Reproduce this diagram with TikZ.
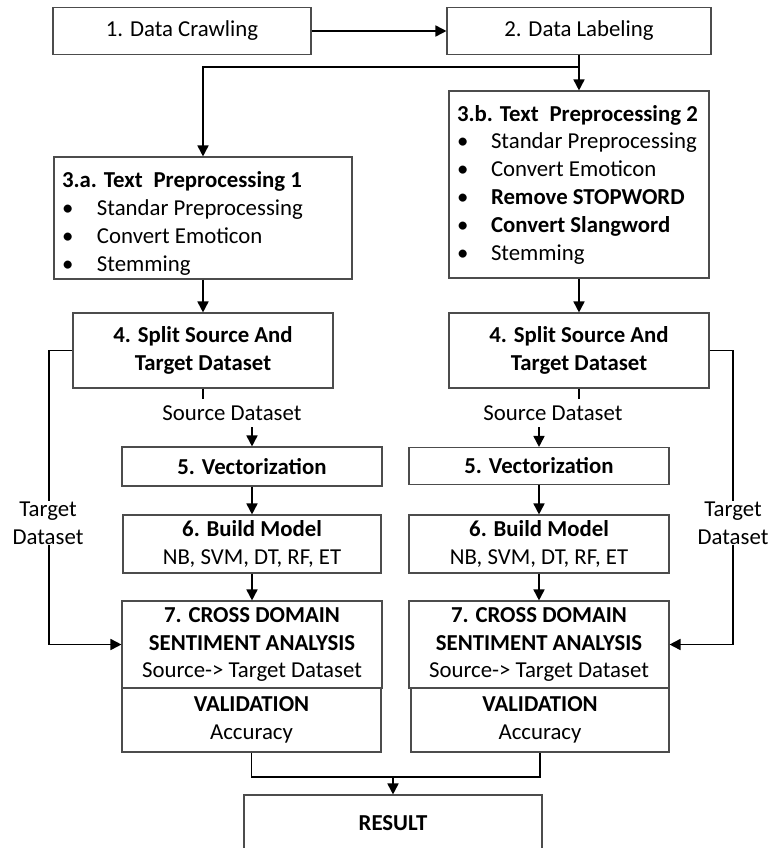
\documentclass[tikz,border=0pt]{standalone}
\usepackage{fontspec}
\setmainfont{Carlito}
\usetikzlibrary{arrows.meta}
\tikzset{
  box/.style={draw=black!70, line width=1.1pt, rectangle, inner sep=0pt, align=center, fill=white},
  listbox/.style={box, inner xsep=8pt, align=flush left},
  conn/.style={draw=black, line width=1.7pt},
  arr/.style={conn, -{Triangle[length=11pt,width=11pt]}},
  lbl/.style={inner sep=0pt, align=center},
  tlbl/.style={inner xsep=1pt, inner ysep=1pt, align=center, fill=white}
}
\newcommand{\bul}[2]{\mbox{\makebox[#1][l]{•}#2}}
\begin{document}
\begin{tikzpicture}[x=1pt,y=-1pt,font=\fontsize{22.8}{27.8}\selectfont]
\clip (0,0) rectangle (769,848);
\fill[white] (0,0) rectangle (769,848);
% top row
\node[box, minimum width=258, minimum height=47] (n1) at (182,31) {1. Data Crawling};
\node[box, minimum width=264, minimum height=47] (n2) at (579,31) {2. Data Labeling};
% preprocessing
\node[listbox, minimum width=260, minimum height=187, text width=244] (n3b) at (579,184.5)
 {\mbox{\textbf{3.b. Text\hspace{0.25em} Preprocessing 2}}\\
  \bul{34pt}{Standar Preprocessing}\\
  \bul{34pt}{Convert Emoticon}\\
  \bul{34pt}{\textbf{Remove STOPWORD}}\\
  \bul{34pt}{\textbf{Convert Slangword}}\\
  \bul{34pt}{Stemming}};
\node[listbox, minimum width=298, minimum height=122, text width=282] (n3a) at (203,218)
 {\mbox{\rule{0pt}{27pt}\textbf{3.a. Text\hspace{0.25em} Preprocessing 1}}\\
  \bul{35pt}{Standar Preprocessing}\\
  \bul{35pt}{Convert Emoticon}\\
  \bul{35pt}{Stemming}};
% split
\node[box, minimum width=260, minimum height=75] (n4a) at (203,350.5) {\textbf{4. Split Source And}\\\textbf{Target Dataset}};
\node[box, minimum width=260, minimum height=75] (n4b) at (579,350.5) {\textbf{4. Split Source And}\\\textbf{Target Dataset}};
% vectorization
\node[box, minimum width=260, minimum height=39] (n5a) at (252,466.5) {\textbf{5. Vectorization}};
\node[box, minimum width=260, minimum height=37] (n5b) at (539,466) {\textbf{5. Vectorization}};
% build model
\node[box, minimum width=258, minimum height=58] (n6a) at (252,544) {\textbf{6. Build Model}\\NB, SVM, DT, RF, ET};
\node[box, minimum width=260, minimum height=58] (n6b) at (539,544) {\textbf{6. Build Model}\\NB, SVM, DT, RF, ET};
% cross domain
\node[box, minimum width=260, minimum height=87] (n7a) at (252,644.5) {\textbf{7. CROSS DOMAIN}\\\textbf{SENTIMENT ANALYSIS}\\Source-> Target Dataset};
\node[box, minimum width=260, minimum height=87] (n7b) at (539,644.5) {\textbf{7. CROSS DOMAIN}\\\textbf{SENTIMENT ANALYSIS}\\Source-> Target Dataset};
% validation
\node[box, minimum width=259, minimum height=64] (n8a) at (251.5,720) {\textbf{VALIDATION}\\Accuracy};
\node[box, minimum width=258, minimum height=64] (n8b) at (540,720) {\textbf{VALIDATION}\\Accuracy};
% result
\node[box, minimum width=298, minimum height=90] (res) at (393,840) {};
\node[lbl] (restxt) at (393,823) {\textbf{RESULT}};
% labels
\node[lbl] (srca) at (232,413) {Source Dataset};
\node[lbl] (srcb) at (553,413) {Source Dataset};
% coordinates
\coordinate (br) at (579,67);
\coordinate (sa1) at (203,399);
\coordinate (sa2) at (252,427);
\coordinate (sb1) at (579,399);
\coordinate (sb2) at (539,427);
\coordinate (tl) at (49,500);
\coordinate (tr) at (733,500);
\coordinate (m) at (393,777);
% connectors
\draw[arr] (n1.east) -- (n2.west);
\draw[arr] (n2.south) -- (n3b.north);
\draw[arr] (br) -| (n3a.north);
\draw[arr] (n3a.south) -- (n4a.north);
\draw[arr] (n3b.south) -- (n4b.north);
\draw[conn] (n4a.south) -- (sa1);
\draw[conn] (n4b.south) -- (sb1);
\draw[arr] (sa2) -- (n5a.north);
\draw[arr] (sb2) -- (n5b.north);
\draw[arr] (n5a.south) -- (n6a.north);
\draw[arr] (n5b.south) -- (n6b.north);
\draw[arr] (n6a.south) -- (n7a.north);
\draw[arr] (n6b.south) -- (n7b.north);
\draw[arr] (n4a.west) -| (tl) |- (n7a.west);
\draw[arr] (n4b.east) -| (tr) |- (n7b.east);
\draw[conn] (n8a.south) |- (m) -| (n8b.south);
\draw[arr] (m) -- (res.north);
\node[tlbl] (tla) at (48,523) {Target\\Dataset};
\node[tlbl] (tlb) at (733,523) {Target\\Dataset};
\end{tikzpicture}
\end{document}
